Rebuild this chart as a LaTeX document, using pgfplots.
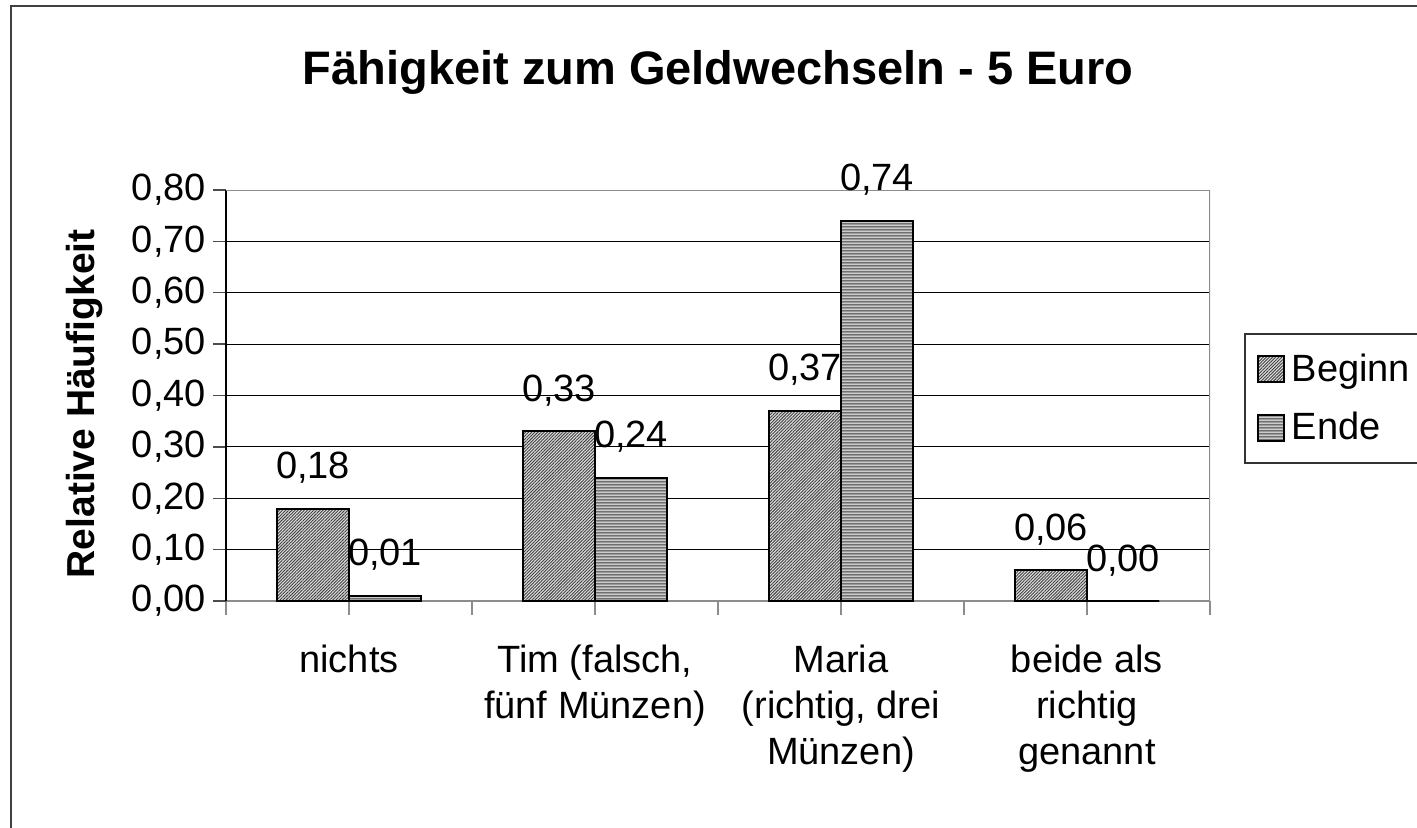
\documentclass[border=0pt]{standalone}
\usepackage{fontspec}
\setmainfont{Liberation Sans}
\usepackage{pgfplots}
\pgfplotsset{compat=1.18}
\usetikzlibrary{patterns,patterns.meta}
\pgfdeclarepatternformonly{hstripes}{\pgfqpoint{0pt}{0pt}}{\pgfqpoint{20pt}{1.5pt}}{\pgfqpoint{20pt}{1.5pt}}{%
  \pgfsetlinewidth{0.75pt}\pgfpathmoveto{\pgfqpoint{-1pt}{0.75pt}}\pgfpathlineto{\pgfqpoint{21pt}{0.75pt}}\pgfusepath{stroke}}
\newcommand{\lbl}{\fontsize{19}{23}\selectfont}
\begin{document}
\begin{tikzpicture}
\useasboundingbox (0,0) rectangle (708.5pt,413.5pt);
\clip (0,0) rectangle (708.5pt,413.5pt);
\draw[line width=1pt, black!75] (5.5pt,-5pt) -- (5.5pt,410.5pt) -- (720pt,410.5pt);
\begin{axis}[
  at={(113pt,113pt)}, anchor=south west,
  scale only axis, width=492pt, height=205.5pt,
  xmin=-0.5, xmax=3.5, ymin=0, ymax=0.8,
  ybar=0pt, bar width=36pt,
  axis lines=left, axis line style={-},
  y axis line style={black, line width=1pt},
  x axis line style={black!45, line width=1pt},
  ytick={0,0.1,...,0.81},
  ymajorgrids, grid style={black, line width=0.5pt},
  tick align=outside,
  major tick length=6.5pt,
  ytick style={black!70, line width=0.7pt},
  xtick={-0.5,0.5,1.5,2.5,3.5}, xticklabels={},
  xtick style={black!45, line width=0.8pt, /pgfplots/major tick length=7pt},
  extra x ticks={0,1,2,3},
  extra x tick labels={nichts, {Tim (falsch,\\fünf Münzen)}, {Maria\\(richtig, drei\\Münzen)}, {beide als\\richtig\\genannt}},
  extra x tick style={/pgfplots/major tick length=0pt, grid=none,
     tick label style={align=center, font=\lbl, yshift=-18.5pt}},
  /pgf/number format/assume math mode=true,
  yticklabel style={font=\lbl, /pgf/number format/.cd, fixed, fixed zerofill, precision=2, use comma},
  title={\textbf{Fähigkeit zum Geldwechseln - 5 Euro}},
  title style={font=\fontsize{23.5}{28}\selectfont, at={(axis description cs:0.5,1)}, anchor=base, yshift=47pt},
  ylabel={\textbf{Relative Häufigkeit}},
  every axis y label/.style={at={(axis description cs:0,0.48)}, xshift=-70.5pt, rotate=90, anchor=center, font=\fontsize{19.5}{23}\selectfont},
  nodes near coords={\pgfmathprintnumber[fixed,fixed zerofill,precision=2,use comma,assume math mode=true]{\pgfplotspointmeta}},
  every node near coord/.append style={font=\lbl, anchor=base, yshift=15pt, inner sep=0pt},
  legend style={at={(rel axis cs:1.0346,0.652)}, anchor=north west, draw=black!80, line width=0.8pt,
     font=\lbl, row sep=10pt, inner xsep=6pt, inner ysep=8pt, cells={anchor=west}},
  legend image code/.code={\draw[#1, line width=0.9pt] (1pt,-6.5pt) rectangle (14pt,6.5pt); \path (15.5pt,0);},
]
\addplot[draw=black, line width=1pt, fill=gray!25,
  postaction={pattern={Lines[angle=45,distance=1.1pt,line width=0.45pt]}, pattern color=black!75}]
  coordinates {(0,0.18) (1,0.33) (2,0.37) (3,0.06)};
\addplot[draw=black, line width=1pt, fill=gray!40,
  postaction={pattern=hstripes, pattern color=black!75}]
  coordinates {(0,0.01) (1,0.24) (2,0.74) (3,0.00)};
\legend{Beginn, Ende}
\draw[black!45, line width=1.3pt] (rel axis cs:0,1) -- (rel axis cs:1,1) -- (rel axis cs:1,0);
\end{axis}
\end{tikzpicture}
\end{document}
